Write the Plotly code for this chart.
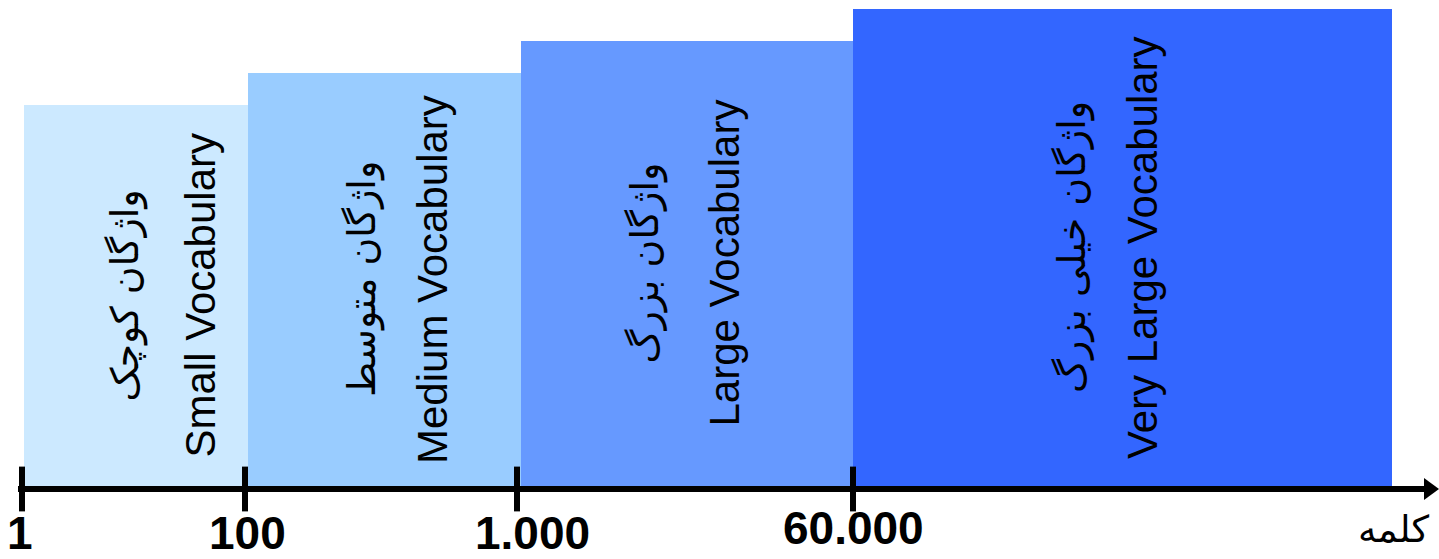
import plotly.graph_objects as go

# Vocabulary-size bands (boundaries on a schematic pixel-like axis)
band_edges = [24, 248, 521, 853, 1392]
band_heights = [381, 413, 445, 477]
band_colors = ["#CCE9FF", "#99CCFF", "#6699FF", "#3366FF"]
band_fa = ["واژگان کوچک", "واژگان متوسط", "واژگان بزرگ", "واژگان خیلی بزرگ"]
band_en = ["Small Vocabulary", "Medium Vocabulary", "Large Vocabulary", "Very Large Vocabulary"]

# Word-count ticks along the axis
tick_pos = [22, 245, 517, 853]
tick_text = ["1", "100", "1.000", "60.000"]
axis_title = "کلمه"

W, H = 1439, 559
BASE = 73          # bottom of the bands, measured from the bottom edge
AXIS_Y = 70        # axis line height from the bottom edge

centers = [(a + b) / 2 for a, b in zip(band_edges[:-1], band_edges[1:])]
widths = [b - a for a, b in zip(band_edges[:-1], band_edges[1:])]

fig = go.Figure()
fig.add_trace(go.Bar(
    x=centers, y=band_heights, width=widths, base=BASE,
    marker=dict(color=band_colors, line=dict(width=0)),
    hoverinfo="skip", showlegend=False,
))

# axis line
fig.add_shape(type="line", x0=18, x1=1428, y0=AXIS_Y, y1=AXIS_Y,
              line=dict(color="black", width=6), layer="above")
# arrow head
fig.add_shape(type="path",
              path=f"M 1424 {AXIS_Y + 11} L 1439 {AXIS_Y} L 1424 {AXIS_Y - 11} Z",
              fillcolor="black", line=dict(color="black", width=0), layer="above")

# tick marks crossing the axis line
fig.add_trace(go.Scatter(
    x=tick_pos, y=[AXIS_Y] * len(tick_pos), mode="markers",
    marker=dict(symbol="line-ns", size=32, line=dict(color="black", width=6)),
    hoverinfo="skip", showlegend=False,
))

# tick labels
label_dx = [-2, 2, 15, 0]
label_y = [26, 26, 26, 31]
for p, t, dx, ly in zip(tick_pos, tick_text, label_dx, label_y):
    fig.add_annotation(x=p + dx, y=ly, text=f"<b>{t}</b>", showarrow=False,
                       xanchor="center", yanchor="middle",
                       font=dict(family="Liberation Sans, Arial", size=46, color="black"))

fig.add_annotation(x=1393, y=30, text=axis_title, showarrow=False,
                   xanchor="center", yanchor="middle",
                   font=dict(family="DejaVu Sans, Noto Sans", size=37, color="black"))

# rotated band captions: Persian line then English line
fa_dx = [-11, -22, -42, -50]
en_dx = [64, 48, 37, 20]
for c, h, fa, en, dfa, den in zip(centers, band_heights, band_fa, band_en, fa_dx, en_dx):
    ymid = BASE + h / 2
    fig.add_annotation(x=c + dfa, y=ymid, text=fa, textangle=-90, showarrow=False,
                       xanchor="center", yanchor="middle",
                       font=dict(family="DejaVu Sans, Noto Sans", size=38, color="black"))
    fig.add_annotation(x=c + den, y=ymid, text=en, textangle=-90, showarrow=False,
                       xanchor="center", yanchor="middle",
                       font=dict(family="Liberation Sans, Arial", size=42, color="black"))

fig.update_layout(
    width=W, height=H,
    margin=dict(l=0, r=0, t=0, b=0),
    paper_bgcolor="white", plot_bgcolor="white",
    bargap=0,
    xaxis=dict(range=[0, W], visible=False, fixedrange=True),
    yaxis=dict(range=[0, H], visible=False, fixedrange=True),
)

fig.write_html("out.html")
